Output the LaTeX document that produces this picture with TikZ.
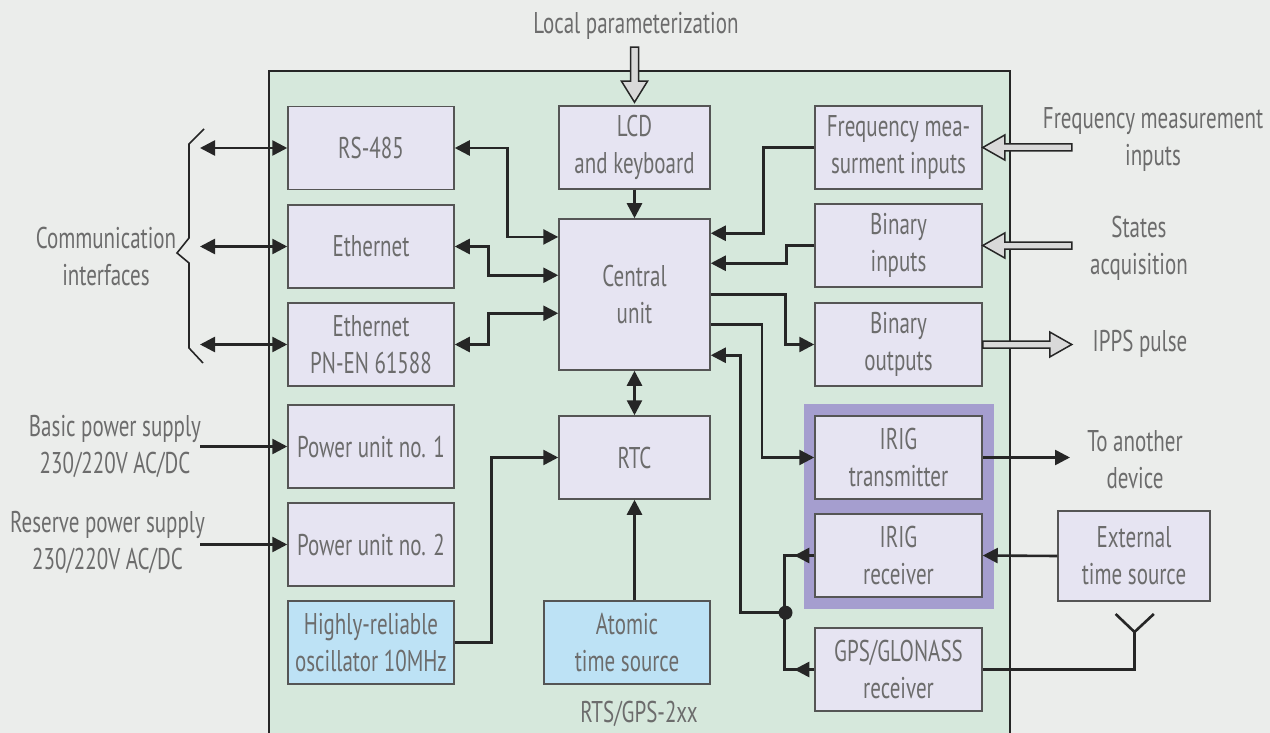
\documentclass[tikz,border=0pt]{standalone}
\usepackage{fontspec}
\setmainfont[FakeStretch=0.7]{PT Sans}
\usetikzlibrary{arrows.meta,calc}
\definecolor{bgc}{HTML}{EBEDEB}
\definecolor{greenc}{HTML}{D6E8DC}
\definecolor{boxf}{HTML}{E6E4F2}
\definecolor{bord}{HTML}{555555}
\definecolor{bluef}{HTML}{BDE2F5}
\definecolor{purp}{HTML}{A59ECF}
\definecolor{txt}{HTML}{6C6C6C}
\definecolor{linec}{HTML}{262626}
\definecolor{hollowf}{HTML}{D9D9D9}
\begin{document}
\begin{tikzpicture}[x=1pt,y=-1pt,
  every node/.style={font=\fontsize{30}{37}\selectfont, text=txt, inner sep=0pt, align=center},
  box/.style={draw=bord, line width=1.5pt, fill=boxf, minimum width=166pt, minimum height=83pt},
  cbox/.style={box, minimum width=151pt},
  rbox/.style={box, minimum width=167pt},
  bluebox/.style={box, fill=bluef},
  conn/.style={draw=linec, line width=2.6pt},
  arr/.style={conn, -{Triangle[length=15pt,width=15pt]}},
  dbl/.style={conn, {Triangle[length=15pt,width=15pt]}-{Triangle[length=15pt,width=15pt]}},
  hollow/.style={draw=linec, line width=1.5pt, fill=hollowf, line join=miter}
]
\useasboundingbox (0,0) rectangle (1270,733);
\fill[bgc] (0,0) rectangle (1270,733);
\fill[greenc] (269,71) rectangle (1010,733);
\draw[draw=linec, line width=2pt] (269,733) -- (269,71) -- (1010,71) -- (1010,733);
\fill[purp] (804,404) rectangle (994,609);

% left column
\node[box] (rs485) at (371,148) {RS-485};
\node[box] (eth) at (371,246.5) {Ethernet};
\node[box] (ethpn) at (371,344.5) {Ethernet\\PN-EN 61588};
\node[box] (pu1) at (371,446.5) {Power unit no. 1};
\node[box] (pu2) at (371,544.5) {Power unit no. 2};
\node[bluebox] (osc) at (371,642.5) {Highly-reliable\\oscillator 10MHz};
% centre column
\node[cbox] (lcd) at (634.5,147.5) {LCD\\and keyboard};
\node[cbox, minimum height=151pt] (cu) at (634.5,294.5) {Central\\unit};
\node[cbox] (rtc) at (634.5,457.5) {RTC};
\node[bluebox] (atomic) at (627,642.5) {Atomic\\time source};
% right column
\node[rbox] (freq) at (898.5,147.5) {Frequency mea-\\surment inputs};
\node[rbox] (bin) at (898.5,245.5) {Binary\\inputs};
\node[rbox] (bout) at (898.5,344.5) {Binary\\outputs};
\node[rbox] (irigt) at (898.5,457.5) {IRIG\\transmitter};
\node[rbox] (irigr) at (898.5,555.5) {IRIG\\receiver};
\node[rbox] (gps) at (898.5,669.5) {GPS/GLONASS\\receiver};
\node[box, minimum width=152pt, minimum height=90pt] (ext) at (1134,556) {External\\time source};

% labels
\node (lp) at (636,26) {Local parameterization};
\node (ci) at (106,256) {Communication\\interfaces};
\node (bps) at (115,446) {Basic power supply\\230/220V AC/DC};
\node (rps) at (107.5,542) {Reserve power supply\\230/220V AC/DC};
\node (tad) at (1135,460) {To another\\device};
\node (fmi) at (1153,139.5) {Frequency measurement\\inputs};
\node (sa) at (1139,248.5) {States\\acquisition};
\node (ipps) at (1140,343.5) {IPPS pulse};
\node (rts) at (639,713.5) {RTS/GPS-2xx};

% communication brace
\draw[draw=linec, line width=1.6pt] (204,129) -- (189,144) -- (189,238) -- (177,253) -- (189,263) -- (189,348) -- (203,363);
\coordinate (c1) at (200,148);
\coordinate (c2) at (200,246.5);
\coordinate (c3) at (200,344.5);
\draw[dbl] (c1) -- (rs485.west);
\draw[dbl] (c2) -- (eth.west);
\draw[dbl] (c3) -- (ethpn.west);

% power supplies
\coordinate (p1) at (200,446.5);
\coordinate (p2) at (200,544.5);
\draw[arr] (p1) -- (pu1.west);
\draw[arr] (p2) -- (pu2.west);

% left column to central unit
\draw[dbl] (rs485.east) -| ($(cu.north west)+(-51,18.7)$) -- ($(cu.north west)+(0,18.7)$);
\draw[dbl] (eth.east) -| ($(cu.north west)+(-70,57)$) -- ($(cu.north west)+(0,57)$);
\draw[dbl] (ethpn.east) -| ($(cu.north west)+(-70,95)$) -- ($(cu.north west)+(0,95)$);

% lcd, rtc
\draw[arr] (lcd.south) -- (cu.north);
\draw[dbl] (cu.south) -- (rtc.north);
\draw[arr] (osc.east) -| ($(rtc.west)+(-67,0)$) -- (rtc.west);
\draw[arr] (atomic.north -| rtc.south) -- (rtc.south);

% right column to central unit
\draw[arr] (freq.west) -| ($(cu.north east)+(52.7,15)$) -- ($(cu.north east)+(0,15)$);
\draw[arr] (bin.west) -| ($(cu.north east)+(76,45)$) -- ($(cu.north east)+(0,45)$);
\draw[arr] ($(cu.north east)+(0,76)$) -| ($(bout.west)+(-29,0)$) -- (bout.west);
\draw[arr] ($(cu.north east)+(0,106)$) -| ($(irigt.west)+(-52.3,0)$) -- (irigt.west);

% receivers bus
\coordinate (bt) at ($(irigr.west)+(-29.5,0)$);
\coordinate (bb) at ($(gps.west)+(-29.5,0)$);
\coordinate (J) at (785.5,612.7);
\draw[conn] (irigr.west) -- (bt) -- (bb) -- (gps.west);
\draw[arr] (irigr.west) -- ++(-20,0);
\draw[arr] (gps.west) -- ++(-20,0);
\fill[linec] (J) circle (7pt);
\draw[arr] (J) -| ($(cu.north east)+(30,137)$) -- ($(cu.north east)+(0,137)$);

% IRIG external
\coordinate (tx) at (1070,457.5);
\draw[arr] (irigt.east) -- (tx);
\draw[arr] (ext.west) -- (irigr.east);

% antenna
\coordinate (ant) at (1134.5,632);
\draw[conn] (gps.east) -| (ant);
\draw[conn, line join=miter] (1115.6,614) -- (ant) -- (1153.8,614);

% hollow arrows
\begin{scope}[shift={(lcd.north)}]
\draw[hollow] (0,-3) -- (-13,-24) -- (-4,-24) -- (-4,-58) -- (4,-58) -- (4,-24) -- (13,-24) -- cycle;
\end{scope}
\begin{scope}[shift={(freq.east)}]
\draw[hollow] (0,0) -- (22,-12.5) -- (22,-3.5) -- (89,-3.5) -- (89,3.5) -- (22,3.5) -- (22,12.5) -- cycle;
\end{scope}
\begin{scope}[shift={(bin.east)}]
\draw[hollow] (0,0) -- (22,-12.5) -- (22,-3.5) -- (89,-3.5) -- (89,3.5) -- (22,3.5) -- (22,12.5) -- cycle;
\end{scope}
\begin{scope}[shift={(bout.east)}]
\draw[hollow] (0,-3.5) -- (67,-3.5) -- (67,-12.5) -- (89,0) -- (67,12.5) -- (67,3.5) -- (0,3.5) -- cycle;
\end{scope}
\end{tikzpicture}
\end{document}
